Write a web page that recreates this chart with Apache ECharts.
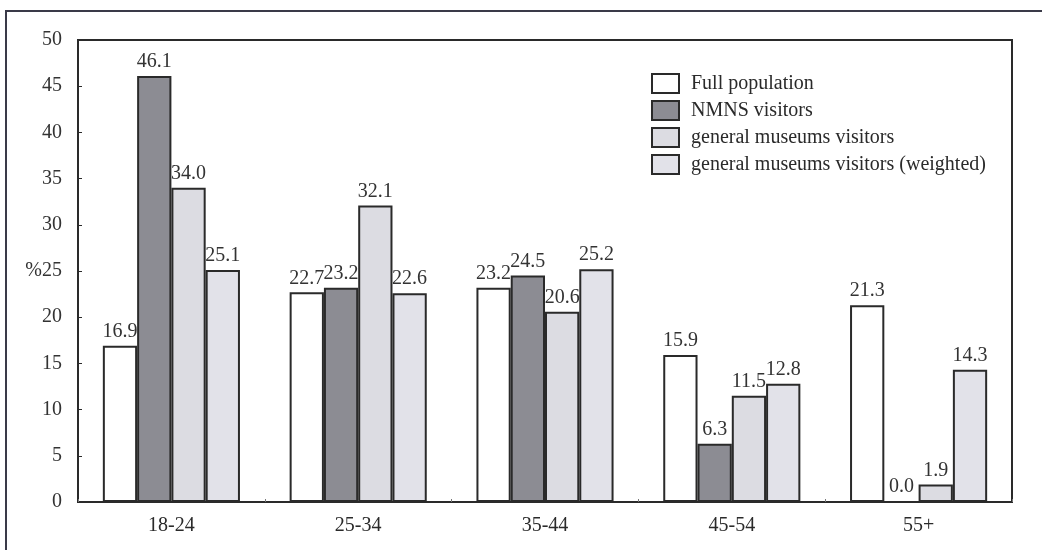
<!DOCTYPE html>
<html>
<head>
<meta charset="utf-8">
<script src="https://cdn.jsdelivr.net/npm/echarts@6/dist/echarts.min.js"></script>
<style>
  html, body { margin: 0; padding: 0; background: #fff; }
  #chart { width: 1042px; height: 550px; }
</style>
</head>
<body>
<div id="chart"></div>
<script>
// Age groups along the x axis
const ageGroups = ['18-24', '25-34', '35-44', '45-54', '55+'];

// Share of each group (%)
const fullPopulation = [16.9, 22.7, 23.2, 15.9, 21.3];
const nmnsVisitors = [46.1, 23.2, 24.5, 6.3, 0.0];
const generalVisitors = [34.0, 32.1, 20.6, 11.5, 1.9];
const generalVisitorsWeighted = [25.1, 22.6, 25.2, 12.8, 14.3];

const seriesNames = [
  'Full population',
  'NMNS visitors',
  'general museums visitors',
  'general museums visitors (weighted)'
];

const FONT = '"Liberation Serif", "DejaVu Serif", serif';
const INK = '#2a2a2a';

const fills = ['#ffffff', '#8c8c93', '#dcdce2', '#e2e2e9'];
const values = [fullPopulation, nmnsVisitors, generalVisitors, generalVisitorsWeighted];

const chart = echarts.init(document.getElementById('chart'), null, { renderer: 'canvas' });

chart.setOption({
  backgroundColor: '#ffffff',
  animation: false,
  grid: {
    left: 78, right: 30, top: 40, bottom: 48,
    show: true, borderColor: INK, borderWidth: 2, backgroundColor: 'transparent'
  },
  legend: {
    orient: 'vertical',
    left: 646, top: 68,
    itemWidth: 27, itemHeight: 19, itemGap: 6,
    icon: 'rect',
    textStyle: { fontFamily: FONT, fontSize: 20, color: INK, padding: [0, 0, 0, 7] },
    data: seriesNames
  },
  xAxis: {
    type: 'category',
    data: ageGroups,
    axisLine: { lineStyle: { color: INK, width: 2 } },
    axisTick: { show: true, inside: true, length: 3, lineStyle: { color: '#777', width: 1 } },
    axisLabel: { fontFamily: FONT, fontSize: 20, color: INK, margin: 14 }
  },
  yAxis: {
    type: 'value',
    min: 0, max: 50, interval: 5,
    splitLine: { show: false },
    axisLine: { show: true, lineStyle: { color: INK, width: 2 } },
    axisTick: { show: true, inside: true, length: 4, lineStyle: { color: INK, width: 1 } },
    axisLabel: {
      fontFamily: FONT, fontSize: 20, color: '#333', margin: 16,
      formatter: v => (v === 25 ? '%25' : String(v))
    }
  },
  series: values.map((data, i) => ({
    name: seriesNames[i],
    type: 'bar',
    data: data,
    barGap: '0%',
    barCategoryGap: '26.6%',
    itemStyle: { color: fills[i], borderColor: INK, borderWidth: 2 },
    label: {
      show: true,
      position: 'top',
      distance: 4,
      fontFamily: FONT, fontSize: 20, color: '#333',
      formatter: p => p.value.toFixed(1)
    }
  })),
  graphic: [{
    type: 'rect',
    shape: { x: 6, y: 11, width: 1200, height: 700 },
    style: { fill: null, stroke: '#3a3a48', lineWidth: 2 },
    silent: true
  }]
});
</script>
</body>
</html>
